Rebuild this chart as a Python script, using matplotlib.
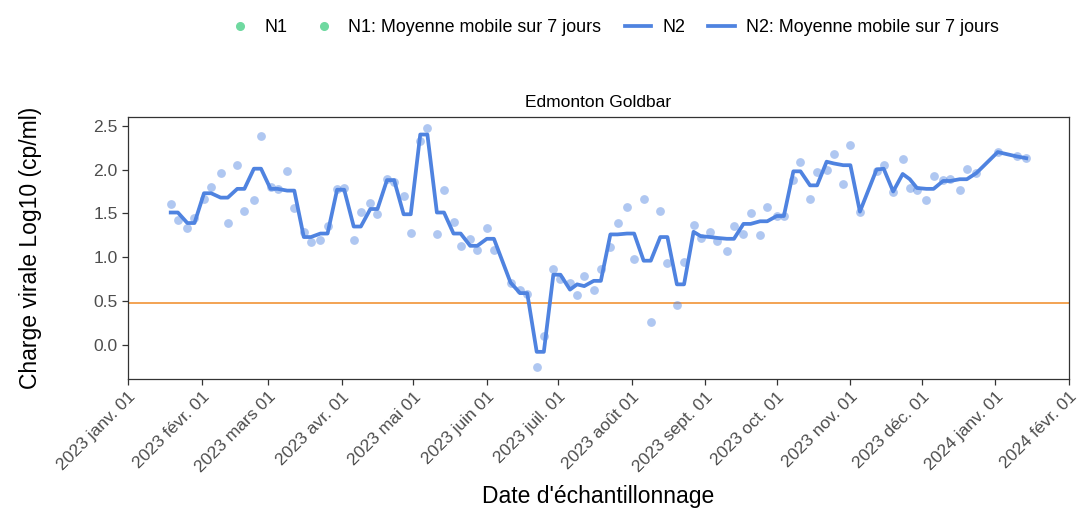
import matplotlib
matplotlib.use("Agg")
import matplotlib.pyplot as plt
from matplotlib.lines import Line2D
import numpy as np
import pandas as pd

plt.rcParams['font.family'] = ['Liberation Sans', 'DejaVu Sans']

# sampling days, counted from 2023-01-01
day_offsets = [18, 21, 25, 28, 32, 35, 39, 42, 46, 49, 53, 56, 60, 63, 67, 70, 74, 77, 81, 84,
               88, 91, 95, 98, 102, 105, 109, 112, 116, 119, 123, 126, 130, 133, 137, 140, 144, 147,
               151, 154, 161, 165, 168, 172, 175, 179, 182, 186, 189, 192, 196, 199, 203, 206, 210,
               213, 217, 220, 224, 227, 231, 234, 238, 241, 245, 248, 252, 255, 259, 262, 266, 269,
               273, 276, 280, 283, 287, 290, 294, 297, 301, 304, 308, 315, 318, 322, 326, 329, 332,
               336, 339, 343, 346, 350, 353, 357, 366, 374, 378]

# N2 daily values (log10 cp/ml)
n2_values = [1.61, 1.43, 1.33, 1.45, 1.66, 1.80, 1.96, 1.39, 2.05, 1.53, 1.65, 2.38, 1.80, 1.78,
             1.98, 1.56, 1.29, 1.17, 1.20, 1.36, 1.78, 1.79, 1.20, 1.52, 1.62, 1.49, 1.89, 1.86,
             1.70, 1.28, 2.33, 2.48, 1.26, 1.77, 1.40, 1.13, 1.21, 1.08, 1.33, 1.08, 0.70, 0.63,
             0.58, -0.25, 0.10, 0.86, 0.75, 0.70, 0.57, 0.79, 0.62, 0.86, 1.12, 1.39, 1.57, 0.98,
             1.66, 0.26, 1.53, 0.93, 0.46, 0.94, 1.37, 1.22, 1.29, 1.18, 1.07, 1.36, 1.26, 1.50,
             1.25, 1.57, 1.47, 1.47, 1.88, 2.09, 1.66, 1.97, 2.00, 2.18, 1.83, 2.28, 1.52, 1.98,
             2.05, 1.74, 2.12, 1.79, 1.77, 1.65, 1.93, 1.88, 1.89, 1.77, 2.01, 1.96, 2.20, 2.15,
             2.13]

# N2 7-day moving average
n2_rolling = [1.51, 1.51, 1.39, 1.39, 1.73, 1.73, 1.68, 1.68, 1.78, 1.78, 2.01, 2.01, 1.78, 1.78,
              1.76, 1.76, 1.23, 1.23, 1.27, 1.27, 1.77, 1.77, 1.35, 1.35, 1.55, 1.55, 1.88, 1.88,
              1.49, 1.49, 2.40, 2.40, 1.51, 1.51, 1.27, 1.27, 1.13, 1.13, 1.21, 1.21, 0.71, 0.59,
              0.59, -0.08, -0.08, 0.80, 0.80, 0.63, 0.69, 0.67, 0.73, 0.73, 1.26, 1.26, 1.27, 1.27,
              0.96, 0.96, 1.23, 1.23, 0.69, 0.69, 1.29, 1.24, 1.23, 1.22, 1.21, 1.21, 1.38, 1.38,
              1.41, 1.41, 1.47, 1.47, 1.98, 1.98, 1.82, 1.82, 2.09, 2.07, 2.05, 2.05, 1.52, 2.00,
              2.01, 1.75, 1.95, 1.89, 1.79, 1.78, 1.78, 1.87, 1.87, 1.89, 1.89, 1.96, 2.20, 2.15,
              2.13]

threshold = np.log10(3)
tick_dates = pd.date_range("2023-01-01", "2024-02-01", freq="MS")
month_names = ["janv.", "févr.", "mars", "avr.", "mai", "juin", "juil.", "août",
               "sept.", "oct.", "nov.", "déc."]
tick_labels = [f"{d.year} {month_names[d.month - 1]} 01" for d in tick_dates]

dates = pd.Timestamp("2023-01-01") + pd.to_timedelta(day_offsets, unit="D")

blue = '#4f83e0'
green = '#6fd9a0'

fig = plt.figure(figsize=(10.77, 5.15), dpi=100)
ax = fig.add_axes([0.1188, 0.2641, 0.8738, 0.5087])

ax.scatter(dates, n2_values, s=40, color=blue, alpha=0.45, linewidths=0, zorder=2)
ax.plot(dates, n2_rolling, color=blue, linewidth=2.7, zorder=3)
ax.axhline(threshold, color='#f08a24', linewidth=1.1, zorder=1)

ax.set_xlim(pd.Timestamp("2023-01-01"), pd.Timestamp("2024-02-01"))
ax.set_ylim(-0.39, 2.60)
ax.set_yticks([0.0, 0.5, 1.0, 1.5, 2.0, 2.5])
ax.set_yticklabels(["0.0", "0.5", "1.0", "1.5", "2.0", "2.5"])
ax.set_xticks(tick_dates)
ax.set_xticklabels(tick_labels, rotation=45, ha='right', rotation_mode='anchor')

ax.tick_params(axis='both', labelsize=12.6, labelcolor='#4d4d4d', color='#333333',
               length=4, width=0.9, direction='out')
for side in ['left', 'bottom', 'top', 'right']:
    ax.spines[side].set_color('#333333')
    ax.spines[side].set_linewidth(0.9)

ax.set_xlabel("Date d'échantillonnage", fontsize=16.5, va='center')
ax.set_ylabel("Charge virale Log10 (cp/ml)", fontsize=16.5, va='center')
ax.xaxis.set_label_coords(0.5, -0.45)
ax.yaxis.set_label_coords(-0.104, 0.5)
ax.set_title("Edmonton Goldbar", fontsize=12.5, pad=7)

handles = [
    Line2D([], [], marker='o', linestyle='none', color=green, markersize=5.5),
    Line2D([], [], marker='o', linestyle='none', color=green, markersize=5.5),
    Line2D([], [], color=blue, linewidth=2.7),
    Line2D([], [], color=blue, linewidth=2.7),
]
labels = ["N1", "N1: Moyenne mobile sur 7 jours", "N2", "N2: Moyenne mobile sur 7 jours"]
fig.legend(handles, labels, loc='center', bbox_to_anchor=(0.569, 0.947), ncol=4,
           frameon=False, fontsize=12.9, handlelength=1.5, columnspacing=1.3, handletextpad=0.6)

fig.savefig('out.png', dpi=100)
